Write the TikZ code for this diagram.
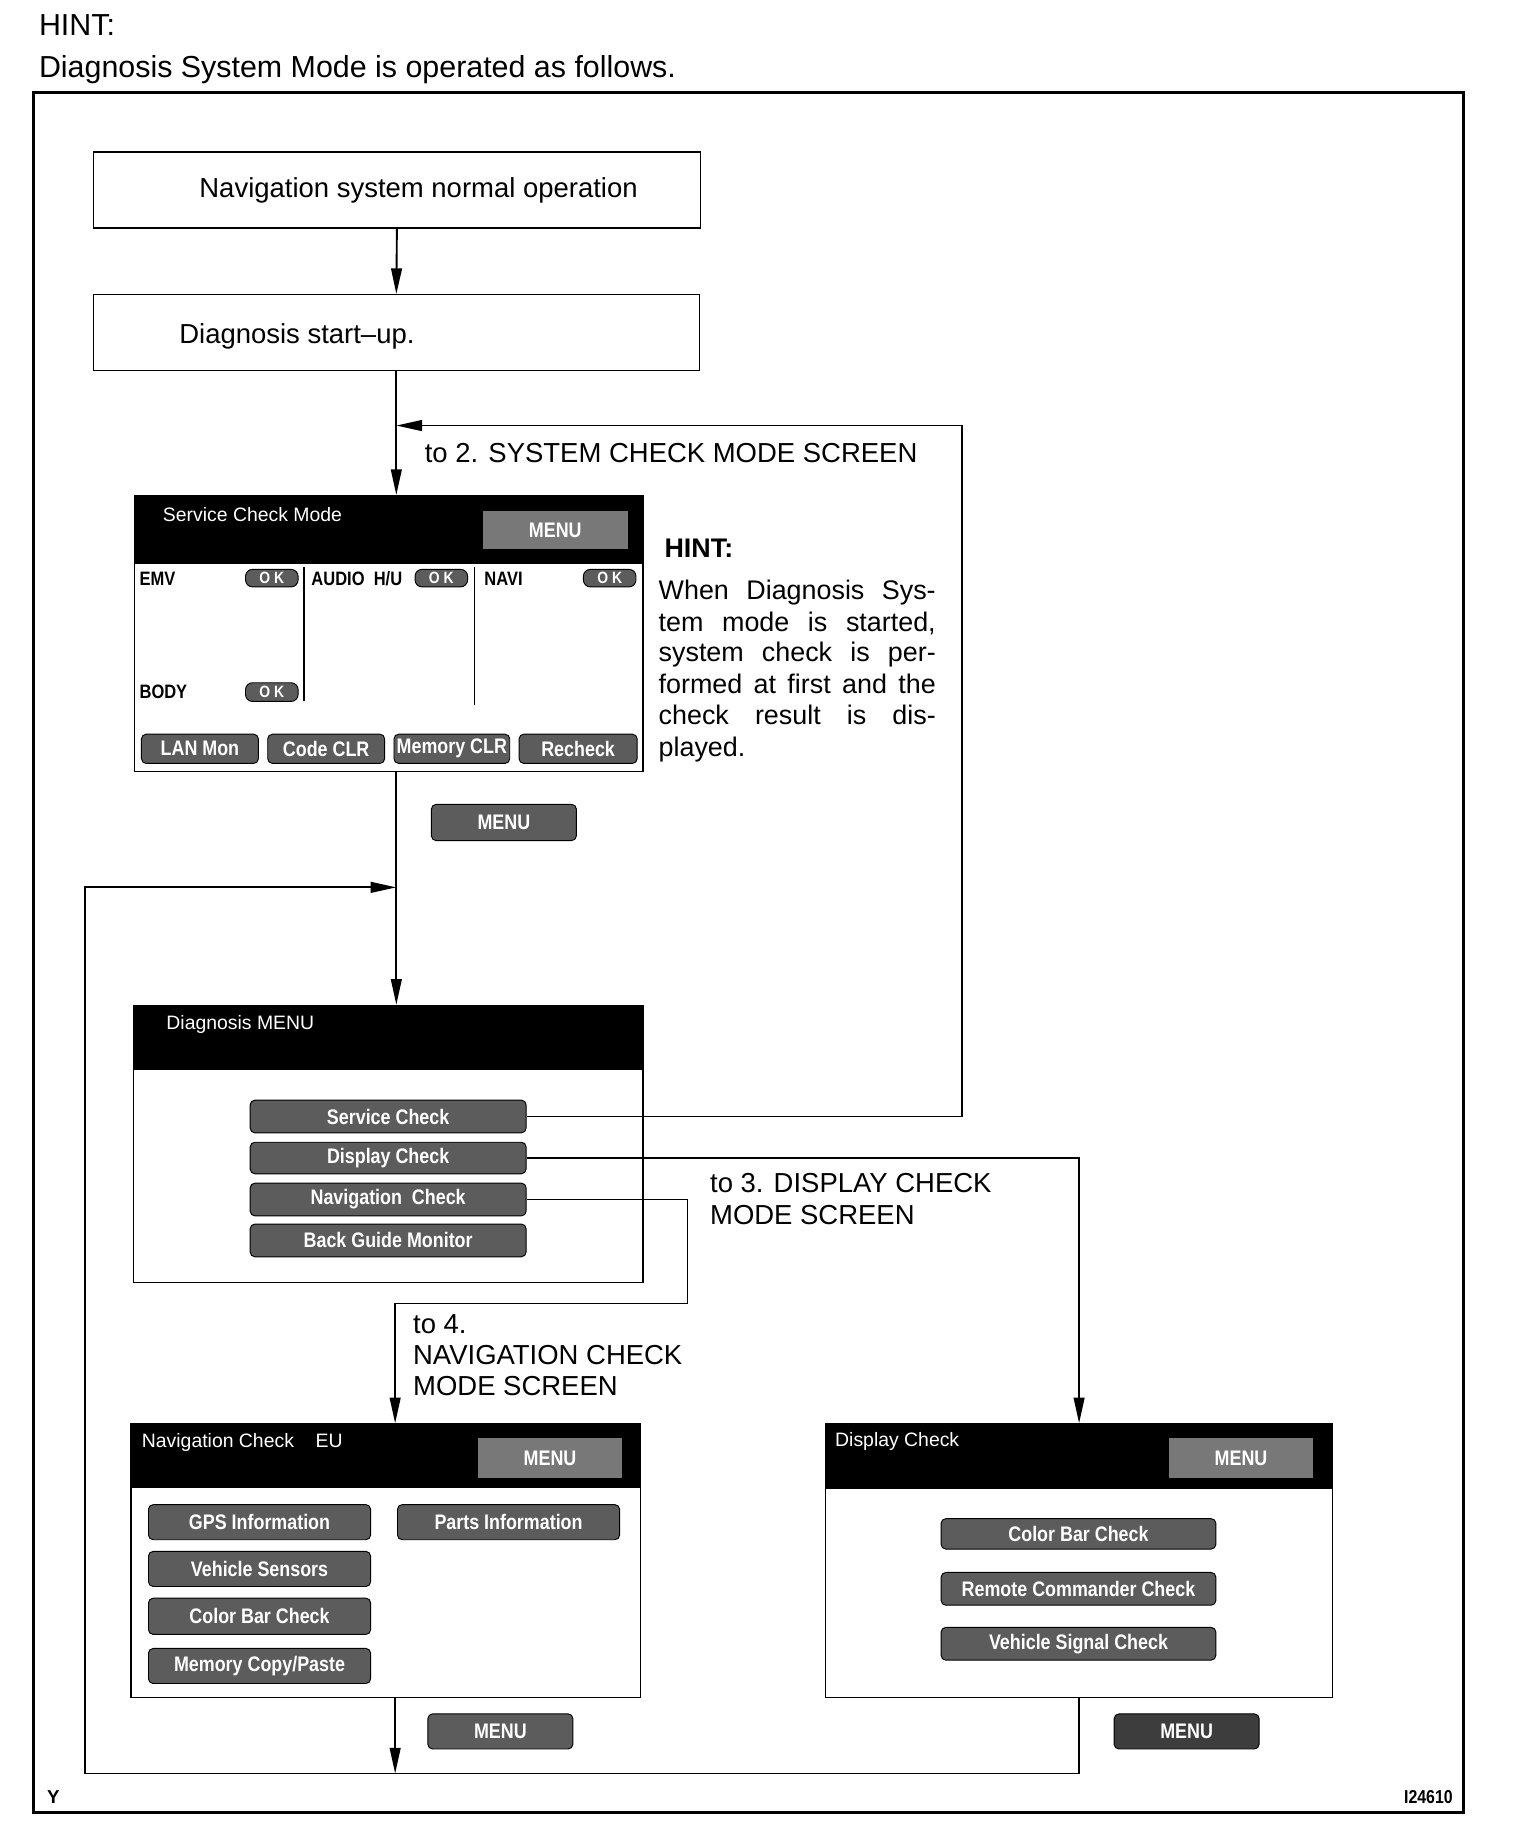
\documentclass[tikz,border=0pt]{standalone}
\usepackage{fontspec}
\setmainfont{Liberation Sans}
\newfontfamily\narrowfont[FakeStretch=0.85]{Liberation Sans}
\usetikzlibrary{arrows.meta,fit}
\definecolor{btngray}{gray}{0.36}
\definecolor{hbtngray}{gray}{0.47}
\definecolor{dbtngray}{gray}{0.24}
\begin{document}
\begin{tikzpicture}[x=0.5pt,y=-0.5pt,
  main/.style={font=\fontsize{11.75}{13.5}\selectfont, inner sep=0pt, anchor=base west},
  hintline/.style={font=\fontsize{11.5}{13.5}\selectfont, inner sep=0pt, anchor=base west},
  box/.style={draw, line width=0.5pt, inner sep=0pt},
  screen/.style={draw, line width=0.6pt, inner sep=0pt, fill=white},
  hdr/.style={fill=black, draw=black, inner sep=0pt},
  hdrtext/.style={text=white, font=\fontsize{8.3}{9}\selectfont, inner sep=0pt},
  btn/.style={fill=btngray, draw=black, line width=0.4pt, rounded corners=2pt, inner sep=0pt},
  hbtn/.style={fill=hbtngray, inner sep=0pt},
  dbtn/.style={fill=dbtngray, draw=black, line width=0.4pt, rounded corners=2pt, inner sep=0pt},
  btntext/.style={text=white, inner sep=0pt, font=\narrowfont\bfseries\fontsize{9}{10}\selectfont},
  oktext/.style={text=white, inner sep=0pt, font=\narrowfont\bfseries\fontsize{7}{8}\selectfont},
  lbl/.style={inner sep=0pt, font=\narrowfont\bfseries\fontsize{8.3}{9}\selectfont},
  link/.style={line width=0.8pt},
  arr/.style={link, -{Triangle[length=11pt,width=4.6pt]}},
  divider/.style={line width=0.6pt}
]
\useasboundingbox (0,0) rectangle (1300,1579);

% title
\node[anchor=base west, inner sep=0pt, font=\fontsize{13}{14}\selectfont] (hint) at (33,30) {HINT:};
\node[anchor=base west, inner sep=0pt, font=\fontsize{13}{14}\selectfont] (intro) at (33,66) {Diagnosis System Mode is operated as follows.};

% outer frame
\node[draw, line width=1.3pt, inner sep=0pt, fit={(29,79)(1252,1550)}] (frame) {};

% top boxes
\node[box, fit={(80,130)(599,195)}] (nav) {};
\node[font=\fontsize{11.75}{13.5}\selectfont, inner sep=0pt] (navt) at (358,163) {Navigation system normal operation};
\node[box, fit={(80,252)(598,317)}] (start) {};
\node[font=\fontsize{11.75}{13.5}\selectfont, inner sep=0pt, anchor=west] (startt) at (153,288) {Diagnosis start--up.};
\draw[arr] (nav.south) -- (start.north);

% Service check mode screen
\node[screen, fit={(115,424)(550,660)}] (scm) {};
\node[hdr, fit={(115,424)(550,482)}] (scmh) {};
\node[hdrtext, anchor=west] (scmt) at (139,440) {Service Check Mode};
\node[hbtn, fit={(413,437)(537,470)}, label={[btntext]center:MENU}] (scmmenu) {};
\draw[divider] (260,485) -- (260,600);
\draw[divider] (406,485) -- (406,603);
\node[lbl, anchor=west] (emv) at (119,495) {EMV};
\node[btn, rounded corners=3pt, fit={(210,487)(255,502)}, label={[oktext]center:O K}] (ok1) {};
\node[lbl, anchor=west] (audio) at (266,495) {AUDIO\ \ H/U};
\node[btn, rounded corners=3pt, fit={(355,487)(400,502)}, label={[oktext]center:O K}] (ok2) {};
\node[lbl, anchor=west] (navi) at (414,495) {NAVI};
\node[btn, rounded corners=3pt, fit={(499,487)(544,502)}, label={[oktext]center:O K}] (ok3) {};
\node[lbl, anchor=west] (body) at (119,592) {BODY};
\node[btn, rounded corners=3pt, fit={(210,584)(255,600)}, label={[oktext]center:O K}] (ok4) {};
\node[btn, fit={(121,628)(221,653)}, label={[btntext]center:LAN Mon}] (lan) {};
\node[btn, fit={(229,628)(329,653)}, label={[btntext]center:Code CLR}] (code) {};
\node[btn, fit={(337,628)(436,653)}, label={[btntext]center:Memory CLR}] (mem) {};
\node[btn, fit={(444,628)(545,653)}, label={[btntext]center:Recheck}] (rech) {};

\draw[arr] (start.south) -- (start.south |- scm.north);
\node[main] (to2) at (363,396) {to 2. SYSTEM CHECK MODE SCREEN};

% hint
\node[anchor=base west, inner sep=0pt, font=\bfseries\fontsize{11.5}{13}\selectfont] (hint2) at (568,477) {HINT:};
\node[hintline] (h1) at (563,513) {\makebox[118.5pt][s]{When Diagnosis Sys-}};
\node[hintline] (h2) at (563,540) {\makebox[118.5pt][s]{tem mode is started,}};
\node[hintline] (h3) at (563,566) {\makebox[118.5pt][s]{system check is per-}};
\node[hintline] (h4) at (563,593) {\makebox[118.5pt][s]{formed at first and the}};
\node[hintline] (h5) at (563,620) {\makebox[118.5pt][s]{check result is dis-}};
\node[hintline] (h6) at (563,647) {played.};

% menu button below service screen
\node[btn, fit={(369,688)(493,719)}, label={[btntext]center:MENU}] (menu1) {};

% Diagnosis MENU screen
\node[screen, fit={(114,860)(550,1097)}] (dm) {};
\node[hdr, fit={(114,860)(550,915)}] (dmh) {};
\node[hdrtext, anchor=west] (dmt) at (142,876) {Diagnosis MENU};
\node[btn, fit={(214,941)(450,969)}, label={[btntext]center:Service Check}] (svc) {};
\node[btn, fit={(214,977)(450,1004)}, label={[btntext]center:Display Check}] (disp) {};
\node[btn, fit={(214,1012)(450,1040)}, label={[btntext]center:Navigation\ \ Check}] (navb) {};
\node[btn, fit={(214,1047)(450,1075)}, label={[btntext]center:Back Guide Monitor}] (bgm) {};

\draw[arr] (scm.south -| start.south) -- (dm.north -| start.south);

% loop back to service check
\coordinate (sc2) at (823,364);
\draw[arr] (svc.east) -| (sc2) -- (sc2 -| start.south);

% Navigation check screen
\node[screen, fit={(112,1218)(548,1452)}] (ncs) {};
\node[hdr, fit={(112,1218)(548,1272)}] (ncsh) {};
\node[hdrtext, anchor=west] (ncst) at (121,1234) {Navigation Check\ \ \ \ EU};
\node[hbtn, fit={(409,1230)(532,1264)}, label={[btntext]center:MENU}] (ncsmenu) {};
\node[btn, fit={(127,1287)(317,1317)}, label={[btntext]center:GPS Information}] (gps) {};
\node[btn, fit={(127,1327)(317,1357)}, label={[btntext]center:Vehicle Sensors}] (vs) {};
\node[btn, fit={(127,1367)(317,1398)}, label={[btntext]center:Color Bar Check}] (cbc1) {};
\node[btn, fit={(127,1410)(317,1440)}, label={[btntext]center:Memory Copy/Paste}] (mcp) {};
\node[btn, fit={(340,1287)(530,1317)}, label={[btntext]center:Parts Information}] (parts) {};
\node[btn, fit={(366,1466)(490,1496)}, label={[btntext]center:MENU}] (menu2) {};

% Display check screen
\node[screen, fit={(706,1218)(1140,1452)}] (dcs) {};
\node[hdr, fit={(706,1218)(1140,1273)}] (dcsh) {};
\node[hdrtext, anchor=west] (dcst) at (714,1233) {Display Check};
\node[hbtn, fit={(1000,1230)(1123,1264)}, label={[btntext]center:MENU}] (dcsmenu) {};
\node[btn, fit={(805,1299)(1040,1325)}, label={[btntext]center:Color Bar Check}] (cbc2) {};
\node[btn, fit={(805,1345)(1040,1373)}, label={[btntext]center:Remote Commander Check}] (rcc) {};
\node[btn, fit={(805,1392)(1040,1420)}, label={[btntext]center:Vehicle Signal Check}] (vsc) {};
\node[dbtn, fit={(953,1466)(1077,1496)}, label={[btntext]center:MENU}] (menu3) {};

% display check route
\draw[arr] (disp.east) -| (dcs.north);
\node[main] (to3a) at (607,1020) {to 3. DISPLAY CHECK};
\node[main] (to3b) at (607,1047) {MODE SCREEN};

% navigation check route
\coordinate (nr) at (588,1115);
\coordinate (colA) at (338,1115);
\draw[arr] (navb.east) -| (nr) -- (colA) -- (colA |- ncs.north);
\node[main] (to4a) at (353,1141) {to 4.};
\node[main] (to4b) at (353,1167) {NAVIGATION CHECK};
\node[main] (to4c) at (353,1194) {MODE SCREEN};

% return loop
\coordinate (lb) at (73,1517);
\coordinate (lt) at (73,759);
\draw[arr] (colA |- ncs.south) -- (colA |- lb);
\draw[arr] (dcs.south) |- (lb) -- (lt) -- (lt -| start.south);

% ids
\node[anchor=base west, inner sep=0pt, font=\bfseries\fontsize{8}{9}\selectfont] (yid) at (40,1543) {Y};
\node[anchor=base east, inner sep=0pt, font=\narrowfont\bfseries\fontsize{8}{9}\selectfont] (fid) at (1243,1543) {I24610};
\end{tikzpicture}
\end{document}
